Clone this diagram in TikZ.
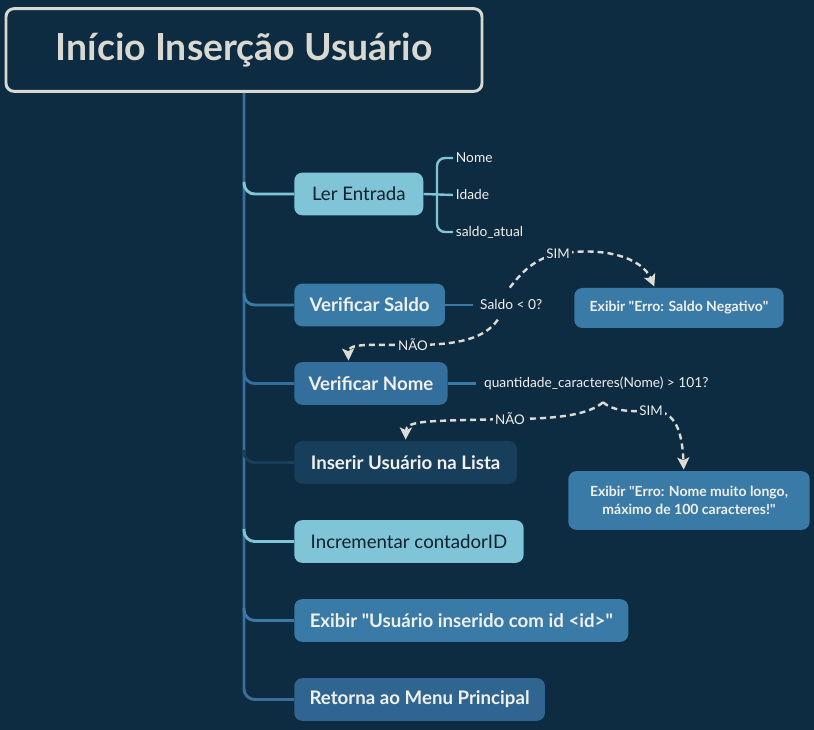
\documentclass[tikz,border=0pt]{standalone}
\usepackage{fontspec}
\setmainfont{Lato}
\usepackage{tikz}
\usetikzlibrary{positioning, arrows.meta}

\definecolor{fundo}{HTML}{0E2C41}
\definecolor{bordatitulo}{HTML}{D9D9D1}
\definecolor{textoclaro}{HTML}{F0F0EC}
\definecolor{textoescuro}{HTML}{10212E}
\definecolor{azulclaro}{HTML}{80C4D8}
\definecolor{azulmedio}{HTML}{3A7AA7}
\definecolor{azulnome}{HTML}{346E9C}
\definecolor{azulretorno}{HTML}{2F6590}
\definecolor{azulescuro}{HTML}{173F5B}
\definecolor{tronco}{HTML}{3A6E9B}
\definecolor{tracejado}{HTML}{DCDCD4}

\begin{document}
\begin{tikzpicture}[x=0.75pt,y=-0.75pt,
    titulo/.style={rectangle, rounded corners=6pt, draw=bordatitulo, line width=2.2pt, fill=fundo,
                   minimum width=357pt, minimum height=62pt, text=bordatitulo,
                   font=\fontsize{28}{32}\selectfont\bfseries},
    passo/.style={rectangle, rounded corners=6pt, anchor=west, minimum height=32pt, inner sep=0pt,
                  text=textoclaro, font=\fontsize{14}{16}\selectfont\bfseries},
    passoclaro/.style={passo, fill=azulclaro, text=textoescuro, font=\fontsize{14}{16}\selectfont},
    folha/.style={anchor=west, inner sep=2pt, text=textoclaro, font=\fontsize{10.3}{12}\selectfont},
    erro/.style={rectangle, rounded corners=6pt, fill=azulmedio, inner sep=0pt, align=center,
                 text=textoclaro, font=\fontsize{10.5}{14}\selectfont\bfseries},
    ramo/.style={draw=#1, line width=2.2pt, rounded corners=8pt},
    chave/.style={draw=azulclaro, line width=1.8pt, rounded corners=6pt},
    liga/.style={draw=azulmedio, line width=1.6pt},
    decisao/.style={draw=tracejado, line width=1.8pt, dash pattern=on 4.5pt off 3pt,
                    -{Stealth[length=9pt, width=9pt, inset=2pt]}, shorten >=1pt},
    rotulo/.style={fill=fundo, inner sep=1.5pt, text=textoclaro, font=\fontsize{10}{11}\selectfont}]

  \useasboundingbox (0,0) rectangle (814,730);
  \fill[fundo] (0,0) rectangle (814,730);

  % titulo
  \node[titulo] (inicio) at (244,50) {Início Inserção Usuário};

  % passos
  \node[passoclaro, minimum width=96.75pt] (ler) at (294,194) {Ler Entrada};
  \node[passo, fill=azulmedio, minimum width=113pt] (vs) at (294,305) {Verificar Saldo};
  \node[passo, fill=azulnome, minimum width=115pt] (vn) at (294,383.5) {Verificar Nome};
  \node[passo, fill=azulescuro, minimum width=167pt] (ins) at (294,462.5) {Inserir Usuário na Lista};
  \node[passoclaro, minimum width=172pt] (inc) at (294,541.5) {Incrementar contadorID};
  \node[passo, fill=azulmedio, minimum width=250.5pt] (exb) at (294,620.5)
       {Exibir \textquotedbl Usuário inserido com id <id>\textquotedbl};
  \node[passo, fill=azulretorno, minimum width=188pt] (ret) at (294,699.5) {Retorna ao Menu Principal};

  % entradas
  \node[folha] (nome) at (453,158) {Nome};
  \node[folha] (idade) at (453,195) {Idade};
  \node[folha] (saldoatual) at (453,232) {saldo\_atual};

  % perguntas
  \node[folha, right=24pt of vs] (saldoq) {Saldo < 0?};
  \node[folha, right=25pt of vn] (nomeq) {quantidade\_caracteres(Nome) > 101?};

  % mensagens de erro
  \node[erro, minimum width=157pt, minimum height=30pt] (erro1) at (679,308)
       {Exibir \textquotedbl Erro: Saldo Negativo\textquotedbl};
  \node[erro, minimum width=181pt, minimum height=44pt] (erro2) at (689,500.5)
       {Exibir \textquotedbl Erro: Nome muito longo,\\máximo de 100 caracteres!\textquotedbl};

  % tronco e ramos
  \draw[ramo=tronco] (inicio.south) |- (ret.west);
  \draw[ramo=azulclaro] (244,182) |- (ler.west);
  \draw[ramo=azulmedio] (244,293) |- (vs.west);
  \draw[ramo=azulnome] (244,371) |- (vn.west);
  \draw[ramo=azulescuro] (244,450) |- (ins.west);
  \draw[ramo=azulclaro] (244,529) |- (inc.west);
  \draw[ramo=azulmedio] (244,608) |- (exb.west);

  % chave das entradas
  \draw[chave] (ler.east) -- (idade.west);
  \draw[chave] (nome.west) -| (437,194) |- (saldoatual.west);

  % ligacoes das perguntas
  \draw[liga] (vs.east) -- ([xshift=-3pt]saldoq.west);
  \draw[liga] (vn.east) -- ([xshift=-4pt]nomeq.west);

  % decisoes
  \coordinate (s1) at ([xshift=-1pt,yshift=7pt]saldoq.north);
  \coordinate (n1) at ([xshift=-10pt,yshift=-5pt]saldoq.south);
  \coordinate (bif) at ([xshift=5pt,yshift=-7pt]nomeq.south);
  \draw[decisao] (s1) .. controls (522,272) and (535,258) .. (558,254)
        node[rotulo] {SIM} .. controls (605,246) and (642,258) .. (erro1.140);
  \draw[decisao] (n1) .. controls (485,338) and (460,345) .. (413,345)
        node[rotulo] {NÃO} .. controls (370,345) and (348,343) .. (vn.136);
  \draw[decisao] (bif) .. controls (590,414) and (560,419) .. (510,419)
        node[rotulo] {NÃO} .. controls (430,421) and (406,420) .. (ins.north);
  \draw[decisao] (bif) .. controls (612,410) and (625,412) .. (651,411)
        node[rotulo] {SIM} .. controls (672,410) and (682,425) .. (erro2.100);
\end{tikzpicture}
\end{document}
